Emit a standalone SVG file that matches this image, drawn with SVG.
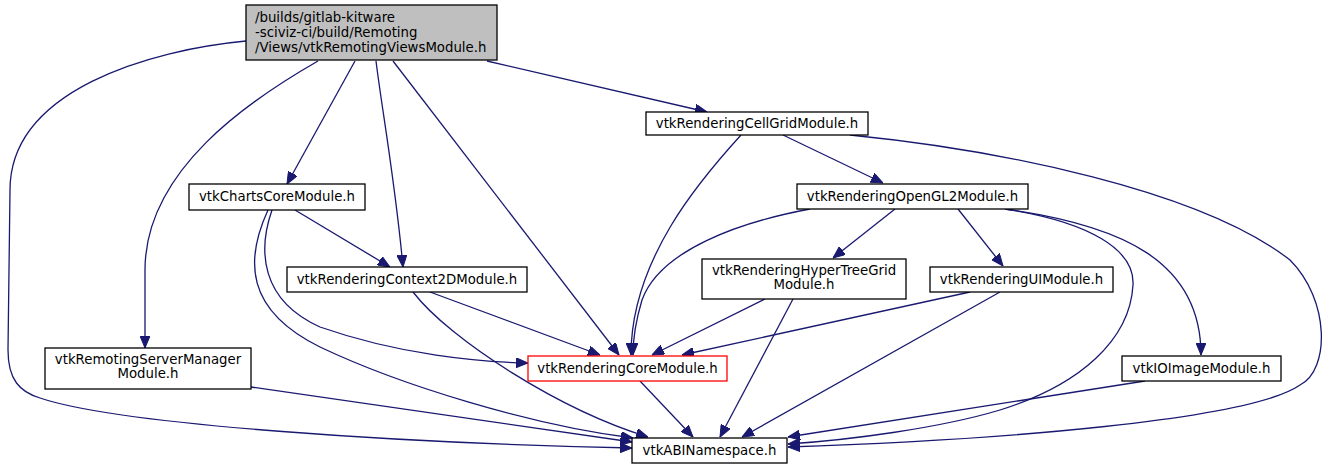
<svg xmlns="http://www.w3.org/2000/svg" width="1328" height="469" viewBox="0 0 1328 469">
<style>
.node rect{fill:#ffffff;stroke:#000000;stroke-width:1.3}
.node text{font-family:"DejaVu Sans",sans-serif;font-size:13.3px;fill:#000000;text-anchor:middle}
#n0 rect{fill:#bfbfbf}
#n0 text{text-anchor:start}
#n9 rect{stroke:#ff0000}
.edges path{fill:none;stroke:#191970;stroke-width:1.3;marker-end:url(#arr)}
</style>
<defs>
<marker id="arr" viewBox="0 0 12 10" refX="12" refY="5" markerWidth="12" markerHeight="10" markerUnits="userSpaceOnUse" orient="auto">
<path d="M0,0 L12,5 L0,10 z" fill="#191970" stroke="#191970" stroke-width="1"/>
</marker>
</defs>
<rect width="1328" height="469" fill="#ffffff"/>
<g class="edges">
<path d="M246,41 C150,50 10,90 10,190 L8,350 C8,380 20,392 40,398 C120,425 400,443 632,448"/>
<path d="M318,61 C250,100 145,170 145,270 L145,348"/>
<path d="M355,61 L287,184"/>
<path d="M376,61 C382,110 395,180 403,267"/>
<path d="M393,61 L619,355"/>
<path d="M487,61 L707,112"/>
<path d="M741,135 C700,180 631,260 631,355"/>
<path d="M783,135 L883,183"/>
<path d="M850,135 C1000,150 1200,190 1290,260 C1330,300 1330,370 1300,385 C1250,420 1000,440 788,447"/>
<path d="M810,209 C740,222 660,250 642,300 C636,320 633,340 633,355"/>
<path d="M895,209 L833,258"/>
<path d="M958,209 L1003,266"/>
<path d="M1005,209 C1120,225 1201,260 1201,355"/>
<path d="M1005,209 C1090,222 1135,250 1133,285 C1130,340 1080,385 1000,410 C940,428 850,440 788,444"/>
<path d="M295,210 L390,267"/>
<path d="M272,210 C258,250 260,300 320,327 C400,355 480,362 528,363"/>
<path d="M268,210 C245,260 245,310 320,347 C400,385 530,425 633,438"/>
<path d="M430,292 L600,355"/>
<path d="M413,292 C450,340 560,410 648,437"/>
<path d="M765,299 L652,355"/>
<path d="M793,299 L720,437"/>
<path d="M970,292 L682,355"/>
<path d="M1000,292 L742,437"/>
<path d="M640,381 L693,437"/>
<path d="M251,387 L632,442"/>
<path d="M1145,381 L788,437"/>
</g>
<g id="n0" class="node"><rect x="246" y="5" width="251" height="55"/><text x="255" y="22">/builds/gitlab-kitware</text><text x="255" y="37">-sciviz-ci/build/Remoting</text><text x="255" y="52">/Views/vtkRemotingViewsModule.h</text></g>
<g id="n1" class="node"><rect x="632" y="438" width="155" height="25"/><text x="709.5" y="455">vtkABINamespace.h</text></g>
<g id="n2" class="node"><rect x="45" y="348" width="206" height="41"/><text x="148" y="364">vtkRemotingServerManager</text><text x="148" y="378">Module.h</text></g>
<g id="n3" class="node"><rect x="189" y="184" width="176" height="26"/><text x="277" y="201">vtkChartsCoreModule.h</text></g>
<g id="n4" class="node"><rect x="287" y="267" width="240" height="25"/><text x="407" y="284">vtkRenderingContext2DModule.h</text></g>
<g id="n5" class="node"><rect x="646" y="112" width="222" height="23"/><text x="757" y="128">vtkRenderingCellGridModule.h</text></g>
<g id="n6" class="node"><rect x="797" y="184" width="231" height="25"/><text x="912.5" y="201">vtkRenderingOpenGL2Module.h</text></g>
<g id="n7" class="node"><rect x="702" y="259" width="204" height="40"/><text x="804" y="275">vtkRenderingHyperTreeGrid</text><text x="804" y="289">Module.h</text></g>
<g id="n8" class="node"><rect x="930" y="267" width="183" height="25"/><text x="1021.5" y="284">vtkRenderingUIModule.h</text></g>
<g id="n9" class="node"><rect x="528" y="356" width="199" height="25"/><text x="627.5" y="373">vtkRenderingCoreModule.h</text></g>
<g id="n10" class="node"><rect x="1122" y="356" width="159" height="25"/><text x="1201.5" y="373">vtkIOImageModule.h</text></g>
</svg>
